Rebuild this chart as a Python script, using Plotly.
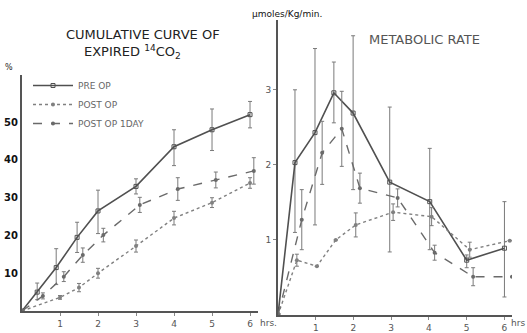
import plotly.graph_objects as go

# ---------------- data ----------------
# Left panel: cumulative curve of expired 14CO2 (%)
cum_pre_x = [0, 0.4, 0.9, 1.45, 2, 3, 4, 5, 6]
cum_pre_y = [0, 5, 11.5, 19.5, 26.5, 33, 43.5, 48, 52]
cum_pre_up = [0, 2.4, 5, 4, 5.5, 2, 4.5, 5.5, 3.5]
cum_pre_dn = [0, 2, 4.5, 4, 6, 2, 5, 5.5, 3.5]

cum_post_x = [0, 1, 1.5, 2, 3, 4, 5, 6]
cum_post_y = [0, 3.6, 6.2, 10, 17.2, 24.6, 28.7, 33.9]
cum_post_err = [0, 0.5, 1.1, 1.3, 1.6, 1.8, 1.3, 1.4]

cum_day_x = [0, 0.55, 1.1, 1.6, 2.14, 3.1, 4.1, 5.1, 6.1]
cum_day_y = [0, 4, 9.1, 14.8, 20.1, 28.1, 32.3, 34.7, 37.1]
cum_day_err = [0, 0.8, 1.3, 1.9, 1.8, 2, 3, 2.1, 3.5]

# Right panel: metabolic rate (umoles/Kg/min)
met_pre_x = [0, 0.45, 0.98, 1.48, 1.99, 2.96, 4.02, 5.0, 6.0]
met_pre_y = [0, 2.03, 2.43, 2.96, 2.69, 1.77, 1.51, 0.73, 0.89]
met_pre_up = [0, 0.97, 1.12, 0.41, 1.03, 1.0, 0.71, 0.07, 0.62]
met_pre_dn = [0, 0.93, 1.23, 0.40, 1.02, 0.93, 0.64, 0.10, 0.65]

met_post_x = [0, 0.5, 1.03, 1.53, 2.06, 3.05, 4.07, 5.08, 6.14]
met_post_y = [0, 0.73, 0.65, 1.0, 1.2, 1.37, 1.31, 0.87, 0.99]
met_post_err = [0, 0.08, 0, 0, 0.16, 0.11, 0.12, 0.1, 0]

met_day_x = [0, 0.63, 1.17, 1.69, 2.17, 3.17, 4.15, 5.17, 6.2]
met_day_y = [0, 1.27, 2.16, 2.48, 1.69, 1.56, 0.83, 0.51, 0.51]
met_day_err = [0, 0.4, 0.42, 0.5, 0.2, 0.12, 0.1, 0.12, 0]

x_ticks = [1, 2, 3, 4, 5, 6]
left_y_ticks = [10, 20, 30, 40, 50]
right_y_ticks = [1, 2, 3]

series_names = ["PRE OP", "POST OP", "POST OP 1DAY"]

# ---------------- styling ----------------
W, H = 527, 333
C_PRE = "#505050"
C_POST = "#808080"
C_DAY = "#6a6a6a"
C_ERR = "#7a7a7a"
AX = "#555555"


def px_x(p):
    return p / W


def px_y(p):
    return (H - p) / H


fig = go.Figure()


def add(x, y, up, dn, name, color, dash, width, sym, xa, ya, show):
    fig.add_trace(go.Scatter(
        x=x, y=y, mode="lines+markers", name=name, showlegend=show,
        line=dict(color=color, dash=dash, width=width),
        marker=dict(size=4, color=color, symbol=sym),
        error_y=dict(type="data", symmetric=False, array=up, arrayminus=dn,
                     color=C_ERR, thickness=1, width=2),
        xaxis=xa, yaxis=ya,
    ))


add(cum_pre_x, cum_pre_y, cum_pre_up, cum_pre_dn, series_names[0], C_PRE, "solid", 1.6, "square-open", "x", "y", True)
add(cum_post_x, cum_post_y, cum_post_err, cum_post_err, series_names[1], C_POST, "dot", 1.4, "circle", "x", "y", True)
add(cum_day_x, cum_day_y, cum_day_err, cum_day_err, series_names[2], C_DAY, "dash", 1.4, "circle", "x", "y", True)

add(met_pre_x, met_pre_y, met_pre_up, met_pre_dn, series_names[0], C_PRE, "solid", 1.6, "square-open", "x2", "y2", False)
add(met_post_x, met_post_y, met_post_err, met_post_err, series_names[1], C_POST, "dot", 1.4, "circle", "x2", "y2", False)
add(met_day_x, met_day_y, met_day_err, met_day_err, series_names[2], C_DAY, "dash", 1.4, "circle", "x2", "y2", False)

tickfont_x = dict(family="DejaVu Sans", size=9, color="#555555")

fig.update_layout(
    width=W, height=H,
    margin=dict(l=0, r=0, t=0, b=0),
    paper_bgcolor="white", plot_bgcolor="white",
    font=dict(family="DejaVu Sans", color="#333333"),
    xaxis=dict(domain=[px_x(22), px_x(258)], range=[0, 6.21], tickvals=x_ticks,
               showgrid=False, zeroline=False, showline=True, linecolor=AX, linewidth=2,
               ticks="outside", ticklen=3, tickcolor="#888888", tickfont=tickfont_x,
               anchor="y"),
    yaxis=dict(domain=[px_y(311), px_y(75)], range=[0, 62.5], tickvals=left_y_ticks,
               showgrid=False, zeroline=False, showline=True, linecolor=AX, linewidth=2,
               ticks="", tickfont=dict(family="DejaVu Sans", size=10, color="#111111", weight="bold"),
               anchor="x"),
    xaxis2=dict(domain=[px_x(278), px_x(512)], range=[0, 6.2], tickvals=x_ticks,
                showgrid=False, zeroline=False, showline=True, linecolor=AX, linewidth=2,
                ticks="outside", ticklen=3, tickcolor="#888888", tickfont=tickfont_x,
                anchor="y2"),
    yaxis2=dict(domain=[px_y(315), px_y(20)], range=[0, 3.93], tickvals=right_y_ticks,
                showgrid=False, zeroline=False, showline=True, linecolor=AX, linewidth=2,
                ticks="outside", ticklen=3, tickcolor="#888888",
                tickfont=dict(family="DejaVu Sans", size=9, color="#555555"),
                anchor="x2"),
    legend=dict(x=px_x(28), y=px_y(71), xanchor="left", yanchor="top",
                font=dict(family="DejaVu Sans", size=9, color="#666666"),
                bgcolor="rgba(0,0,0,0)", tracegroupgap=0, itemwidth=40),
)

ann = [
    dict(text="CUMULATIVE CURVE OF", x=px_x(143), y=px_y(35),
         font=dict(family="DejaVu Sans", size=13, color="#222222")),
    dict(text="EXPIRED <sup>14</sup>CO<sub>2</sub>", x=px_x(132), y=px_y(52),
         font=dict(family="DejaVu Sans", size=13, color="#222222")),
    dict(text="%", x=px_x(9), y=px_y(68),
         font=dict(family="DejaVu Sans", size=8, color="#222222")),
    dict(text="hrs.", x=px_x(268), y=px_y(323),
         font=dict(family="DejaVu Sans", size=9, color="#555555")),
    dict(text="\u03bcmoles/Kg/min.", x=px_x(287), y=px_y(14),
         font=dict(family="DejaVu Sans", size=9, color="#111111")),
    dict(text="METABOLIC RATE", x=px_x(424), y=px_y(40),
         font=dict(family="DejaVu Sans", size=13, color="#555555")),
    dict(text="hrs", x=px_x(518), y=px_y(323),
         font=dict(family="DejaVu Sans", size=9, color="#555555")),
]
for a in ann:
    a.update(xref="paper", yref="paper", showarrow=False, xanchor="center", yanchor="middle")
fig.update_layout(annotations=ann)

fig.write_html("out.html", config={"displayModeBar": False},
               post_script="document.body.style.margin='0px';document.body.style.padding='0px';")
